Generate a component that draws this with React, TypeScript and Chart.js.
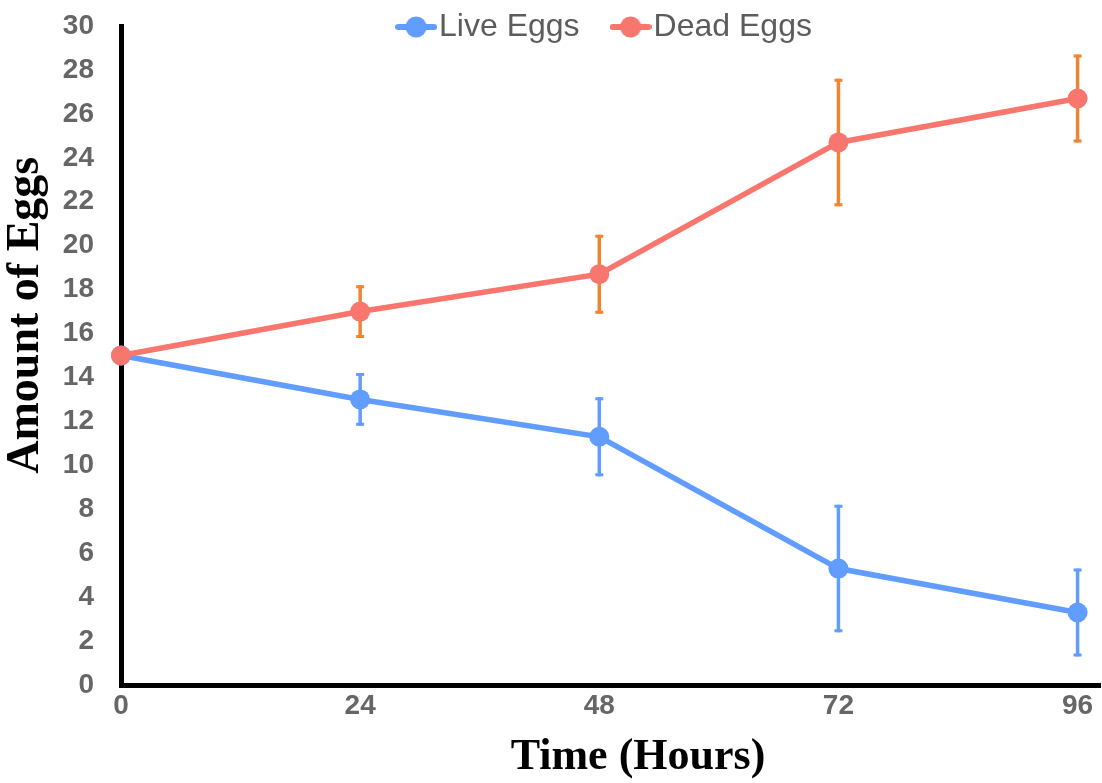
import React, { useEffect, useRef } from 'react';
import { Chart, registerables } from 'chart.js';

Chart.register(...registerables);

// ---- data ----
const HOURS = [0, 24, 48, 72, 96];
const LIVE_EGGS = [15, 13, 11.3, 5.3, 3.3];
const LIVE_ERR = [0, 1.2, 1.8, 2.9, 2.0];
const DEAD_EGGS = [15, 17, 18.7, 24.7, 26.7];
const DEAD_ERR = [0, 1.2, 1.8, 2.9, 2.0];
const X_TICKS = [0, 24, 48, 72, 96];
const SERIES_NAMES = ['Live Eggs', 'Dead Eggs'];
const X_TITLE = 'Time (Hours)';
const Y_TITLE = 'Amount of Eggs';

// ---- style ----
const LIVE_COLOR = '#619CFF';
const DEAD_COLOR = '#F8766D';
const DEAD_ERR_COLOR = '#EF8434';
const TICK_COLOR = '#666666';
const LEGEND_COLOR = '#5c5c5c';
const SANS = '"Liberation Sans", Arial, sans-serif';
const SERIF = '"Liberation Serif", "Times New Roman", serif';
const LEGEND_FONT_SIZE = 32;
const LEGEND_PAD = 44;
const LEGEND_CENTER_Y = 27;

function makeSymbol(color: string): HTMLCanvasElement {
  const c = document.createElement('canvas');
  c.width = 42;
  c.height = 24;
  const g = c.getContext('2d')!;
  g.strokeStyle = color;
  g.lineWidth = 6;
  g.lineCap = 'round';
  g.beginPath();
  g.moveTo(3, 12);
  g.lineTo(39, 12);
  g.stroke();
  g.fillStyle = color;
  g.beginPath();
  g.arc(21, 12, 10.5, 0, Math.PI * 2);
  g.fill();
  return c;
}

const errorBarsPlugin = {
  id: 'errorBars',
  beforeDatasetsDraw(chart: any) {
    const ctx = chart.ctx;
    const xs = chart.scales.x;
    const ys = chart.scales.y;
    chart.data.datasets.forEach((ds: any) => {
      const errs: number[] = ds.errors;
      if (!errs) return;
      ctx.save();
      ctx.strokeStyle = ds.errorColor;
      ds.data.forEach((p: any, i: number) => {
        const e = errs[i];
        if (!e) return;
        const x = xs.getPixelForValue(p.x);
        const yTop = ys.getPixelForValue(p.y + e);
        const yBot = ys.getPixelForValue(p.y - e);
        ctx.lineWidth = 3.5;
        ctx.beginPath();
        ctx.moveTo(x, yTop);
        ctx.lineTo(x, yBot);
        ctx.stroke();
        ctx.lineWidth = 3;
        ctx.beginPath();
        ctx.moveTo(x - 4, yTop + 1.5);
        ctx.lineTo(x + 4, yTop + 1.5);
        ctx.moveTo(x - 4, yBot - 1.5);
        ctx.lineTo(x + 4, yBot - 1.5);
        ctx.stroke();
      });
      ctx.restore();
    });
  },
};

const legendPlacePlugin = {
  id: 'legendPlace',
  afterLayout(chart: any) {
    const lg = chart.legend;
    if (!lg) return;
    const h = lg.bottom - lg.top;
    lg.top = LEGEND_CENTER_Y - LEGEND_PAD - LEGEND_FONT_SIZE / 2;
    lg.bottom = lg.top + h;
  },
};

export default function App() {
  const ref = useRef<HTMLCanvasElement | null>(null);

  useEffect(() => {
    document.body.style.margin = '0';
    if (!ref.current) return;
    const symbols = [makeSymbol(LIVE_COLOR), makeSymbol(DEAD_COLOR)];
    const legendHeight = LEGEND_FONT_SIZE + LEGEND_PAD + 10;

    const chart = new Chart(ref.current, {
      type: 'line',
      data: {
        datasets: [
          {
            label: SERIES_NAMES[0],
            data: HOURS.map((h, i) => ({ x: h, y: LIVE_EGGS[i] })),
            borderColor: LIVE_COLOR,
            backgroundColor: LIVE_COLOR,
            pointBackgroundColor: LIVE_COLOR,
            pointBorderWidth: 0,
            pointRadius: 10,
            borderWidth: 5.5,
            clip: false,
            order: 1,
            errors: LIVE_ERR,
            errorColor: LIVE_COLOR,
          } as any,
          {
            label: SERIES_NAMES[1],
            data: HOURS.map((h, i) => ({ x: h, y: DEAD_EGGS[i] })),
            borderColor: DEAD_COLOR,
            backgroundColor: DEAD_COLOR,
            pointBackgroundColor: DEAD_COLOR,
            pointBorderWidth: 0,
            pointRadius: 10,
            borderWidth: 5.5,
            clip: false,
            order: 0,
            errors: DEAD_ERR,
            errorColor: DEAD_ERR_COLOR,
          } as any,
        ],
      },
      options: {
        responsive: false,
        animation: false,
        layout: {
          autoPadding: false,
          padding: { top: 26 - legendHeight, right: 2, left: 0, bottom: 0 },
        },
        plugins: {
          tooltip: { enabled: false },
          legend: {
            position: 'top',
            align: 'center',
            fullSize: false,
            labels: {
              usePointStyle: true,
              boxWidth: 14,
              padding: LEGEND_PAD,
              color: LEGEND_COLOR,
              font: { family: SANS, size: LEGEND_FONT_SIZE },
              sort: (a: any, b: any) => a.datasetIndex - b.datasetIndex,
              generateLabels: (chart: any) => {
                const items = Chart.defaults.plugins.legend.labels.generateLabels(chart);
                return items.map((it: any) => ({ ...it, pointStyle: symbols[it.datasetIndex] }));
              },
            },
          },
        },
        scales: {
          x: {
            type: 'linear',
            min: 0,
            max: 98.25,
            grid: { display: false, drawTicks: false },
            border: { display: true, color: '#000000', width: 5 },
            afterBuildTicks: (axis: any) => {
              axis.ticks = X_TICKS.map((v) => ({ value: v }));
            },
            afterFit: (axis: any) => {
              axis.height = 98;
              axis.paddingLeft = 0;
              axis.paddingRight = 0;
            },
            ticks: {
              padding: 4,
              color: TICK_COLOR,
              font: { family: SANS, size: 28, weight: 'bold' },
              maxRotation: 0,
            },
            title: {
              display: true,
              text: '     ' + X_TITLE,
              color: '#000000',
              font: { family: SERIF, size: 44, weight: 'bold', lineHeight: 1 },
              padding: { top: 0, bottom: 3 },
            },
          },
          y: {
            type: 'linear',
            min: 0,
            max: 30,
            grid: { display: false, drawTicks: false },
            border: { display: true, color: '#000000', width: 5 },
            afterFit: (axis: any) => {
              axis.width = 121;
              axis.paddingTop = 0;
              axis.paddingBottom = 0;
            },
            ticks: {
              stepSize: 2,
              padding: 27,
              color: TICK_COLOR,
              font: { family: SANS, size: 28, weight: 'bold' },
            },
            title: {
              display: true,
              text: '       ' + Y_TITLE,
              color: '#000000',
              font: { family: SERIF, size: 46, weight: 'bold', lineHeight: 1 },
              padding: { top: 3, bottom: 0 },
            },
          },
        },
      } as any,
      plugins: [errorBarsPlugin, legendPlacePlugin],
    });
    return () => chart.destroy();
  }, []);

  return (
    <div style={{ width: 1102, height: 783 }}>
      <canvas ref={ref} width={1102} height={783} style={{ display: 'block' }} />
    </div>
  );
}
